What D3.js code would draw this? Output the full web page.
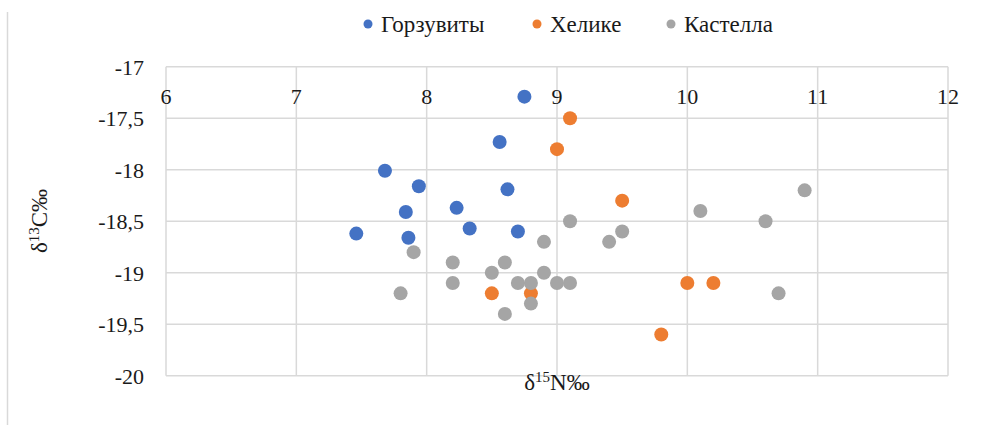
<!DOCTYPE html>
<html>
<head>
<meta charset="utf-8">
<script src="https://cdn.jsdelivr.net/npm/d3@7"></script>
<style>
  body { margin: 0; background: #fff; }
</style>
</head>
<body>
<svg width="981" height="425"></svg>
<script>
const seriesNames = ["Горзувиты", "Хелике", "Кастелла"];
const seriesColors = ["#4472c4", "#ed7d31", "#a5a5a5"];

// [δ15N, δ13C]
const gorzuvity = [
  [8.75, -17.29], [8.56, -17.73], [7.68, -18.01], [7.94, -18.16], [8.62, -18.19],
  [7.84, -18.41], [8.23, -18.37], [8.33, -18.57], [7.46, -18.62], [7.86, -18.66],
  [8.7, -18.6]
];
const helike = [
  [9.1, -17.5], [9.0, -17.8], [9.5, -18.3], [8.5, -19.2], [8.8, -19.2],
  [10.0, -19.1], [10.2, -19.1], [9.8, -19.6]
];
const kastella = [
  [9.1, -18.5], [8.9, -18.7], [7.9, -18.8], [8.2, -18.9], [8.6, -18.9],
  [8.5, -19.0], [8.9, -19.0], [8.2, -19.1], [8.7, -19.1], [8.8, -19.1],
  [9.0, -19.1], [9.1, -19.1], [7.8, -19.2], [8.8, -19.3], [8.6, -19.4],
  [10.9, -18.2], [10.1, -18.4], [10.6, -18.5], [9.5, -18.6], [9.4, -18.7],
  [10.7, -19.2]
];

const xTicks = [6, 7, 8, 9, 10, 11, 12];
const yTicks = [-17, -17.5, -18, -18.5, -19, -19.5, -20];

const FONT = "'Liberation Serif', 'Times New Roman', Tinos, 'DejaVu Serif', serif";

const svg = d3.select("svg")
  .attr("font-family", FONT)
  .style("font-family", FONT);
const fmt = d3.formatLocale({ decimal: ",", thousands: " ", grouping: [3], currency: ["", ""], minus: "-" }).format("~g");

const x = d3.scaleLinear().domain([6, 12]).range([166, 948]);
const y = d3.scaleLinear().domain([-20, -17]).range([375.7, 66.8]);

// chart border at left
svg.append("line")
  .attr("x1", 7.5).attr("x2", 7.5).attr("y1", 12).attr("y2", 425)
  .attr("stroke", "#d9d9d9").attr("stroke-width", 1.5);

// gridlines
svg.append("g").selectAll("line").data(yTicks).join("line")
  .attr("x1", x(6)).attr("x2", x(12))
  .attr("y1", d => y(d)).attr("y2", d => y(d))
  .attr("stroke", "#d9d9d9").attr("stroke-width", 1.5);
svg.append("g").selectAll("line").data(xTicks).join("line")
  .attr("x1", d => x(d)).attr("x2", d => x(d))
  .attr("y1", y(-17)).attr("y2", y(-20))
  .attr("stroke", "#d9d9d9").attr("stroke-width", 1.5);

const txt = sel => sel.attr("font-family", FONT).attr("fill", "#1a1a1a");

// x tick labels (axis crosses at top)
svg.append("g").selectAll("text").data(xTicks).join("text")
  .call(txt)
  .attr("x", d => x(d)).attr("y", 104)
  .attr("text-anchor", "middle").attr("font-size", 22)
  .text(d => fmt(d));

// y tick labels
svg.append("g").selectAll("text").data(yTicks).join("text")
  .call(txt)
  .attr("x", 144).attr("y", d => y(d) + 8)
  .attr("text-anchor", "end").attr("font-size", 22)
  .text(d => fmt(d));

// points
const allSeries = [gorzuvity, helike, kastella];
allSeries.forEach((pts, i) => {
  svg.append("g").selectAll("circle").data(pts).join("circle")
    .attr("cx", d => x(d[0])).attr("cy", d => y(d[1]))
    .attr("r", 7).attr("fill", seriesColors[i]);
});

// axis titles
const xt = svg.append("text").call(txt).attr("x", 557).attr("y", 390)
  .attr("text-anchor", "middle").attr("font-size", 23);
xt.append("tspan").text("δ");
xt.append("tspan").attr("font-size", 15).attr("dy", -8).text("15");
xt.append("tspan").attr("dy", 8).text("N‰");

const yt = svg.append("text").call(txt)
  .attr("transform", "translate(47,221) rotate(-90)")
  .attr("text-anchor", "middle").attr("font-size", 23);
yt.append("tspan").text("δ");
yt.append("tspan").attr("font-size", 15).attr("dy", -8).text("13");
yt.append("tspan").attr("dy", 8).text("C‰");

// legend
const legendX = [368, 537, 671];
const lg = svg.append("g").selectAll("g").data(seriesNames).join("g")
  .attr("transform", (d, i) => `translate(${legendX[i]},24)`);
lg.append("circle").attr("r", 4.5).attr("fill", (d, i) => seriesColors[i]);
lg.append("text").call(txt).attr("x", 13).attr("y", 8).attr("font-size", 23).text(d => d);
</script>
</body>
</html>
